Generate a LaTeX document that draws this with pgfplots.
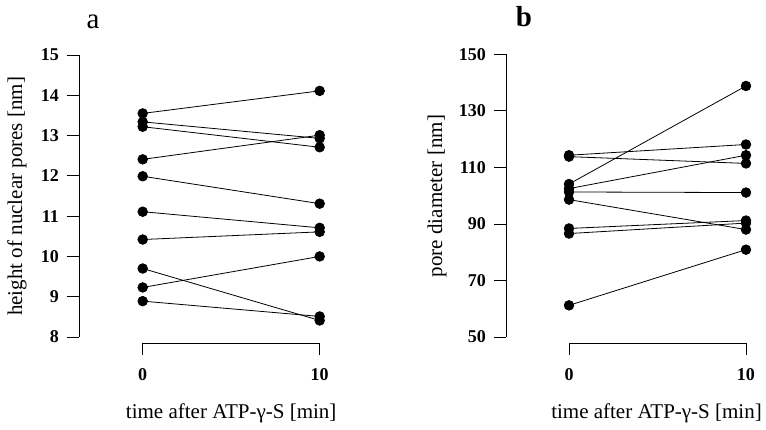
\documentclass[border=0pt]{standalone}
\usepackage{fontspec}
\setmainfont{Liberation Serif}
\usepackage{pgfplots}
\pgfplotsset{compat=1.18}
\begin{document}
\begin{tikzpicture}[x=1pt,y=1pt]
\useasboundingbox (-79,-86) rectangle (687,343);
\pgfplotsset{
  panel/.style={
    scale only axis, clip=false,
    axis x line*=bottom, axis y line*=left,
    axis line style={draw=none,-},
    tick align=outside, major tick length=12pt,
    xtick={0,10}, minor tick num=0,
    tick style={black, line width=0.8pt},
    ticklabel style={font=\bfseries\fontsize{18}{18}\selectfont},
    /pgf/number format/assume math mode=true,
    xticklabel style={inner sep=0pt, yshift=-13pt},
    yticklabel style={inner sep=0pt, xshift=-8pt},
    label style={font=\fontsize{21}{21}\selectfont},
  },
  pair/.style={black, line width=0.8pt, mark=*, mark size=4.8pt, mark options={solid, fill=black}},
}
\begin{axis}[panel, at={(0,0)}, anchor=south west,
  width=251.3pt, height=288pt,
  xmin=-3.6, xmax=10.6, ymin=7.851, ymax=15,
  ytick={8,9,...,15},
  xlabel={time after ATP-γ-S [min]},
  ylabel={height of nuclear pores [nm]},
  xlabel style={at={(axis description cs:0.6056,-0.243)}, anchor=center},
  ylabel style={at={(axis description cs:-0.2467,0.509)}, anchor=center},
]
\draw[line width=0.8pt] (axis cs:-3.6,8) -- (axis cs:-3.6,15);
\draw[line width=0.8pt] (axis cs:0,7.851) -- (axis cs:10,7.851);
\addplot[pair] coordinates {(0,13.55) (10,14.11)};
\addplot[pair] coordinates {(0,13.34) (10,12.93)};
\addplot[pair] coordinates {(0,13.22) (10,12.71)};
\addplot[pair] coordinates {(0,12.41) (10,13.01)};
\addplot[pair] coordinates {(0,11.99) (10,11.31)};
\addplot[pair] coordinates {(0,11.11) (10,10.71)};
\addplot[pair] coordinates {(0,10.42) (10,10.61)};
\addplot[pair] coordinates {(0,9.70) (10,8.41)};
\addplot[pair] coordinates {(0,9.23) (10,10.00)};
\addplot[pair] coordinates {(0,8.89) (10,8.51)};
\end{axis}
\begin{axis}[panel, at={(427pt,0)}, anchor=south west,
  width=250.6pt, height=288.7pt,
  xmin=-3.56, xmax=10.6, ymin=47.88, ymax=150,
  ytick={50,70,...,150},
  xlabel={time after ATP-γ-S [min]},
  ylabel={pore diameter [nm]},
  xlabel style={at={(axis description cs:0.6006,-0.2425)}, anchor=center},
  ylabel style={at={(axis description cs:-0.2753,0.509)}, anchor=center},
]
\draw[line width=0.8pt] (axis cs:-3.56,50) -- (axis cs:-3.56,150);
\draw[line width=0.8pt] (axis cs:0,47.88) -- (axis cs:10,47.88);
\addplot[pair] coordinates {(0,114.3) (10,118.1)};
\addplot[pair] coordinates {(0,113.8) (10,111.4)};
\addplot[pair] coordinates {(0,104.1) (10,138.8)};
\addplot[pair] coordinates {(0,102.5) (10,114.3)};
\addplot[pair] coordinates {(0,101.3) (10,101.1)};
\addplot[pair] coordinates {(0,98.6) (10,88.0)};
\addplot[pair] coordinates {(0,88.4) (10,91.2)};
\addplot[pair] coordinates {(0,86.6) (10,90.3)};
\addplot[pair] coordinates {(0,61.2) (10,80.9)};
\end{axis}
\node[font=\fontsize{29}{29}\selectfont] at (14,321) {a};
\node[font=\bfseries\fontsize{29}{29}\selectfont] at (445,326) {b};
\end{tikzpicture}
\end{document}
